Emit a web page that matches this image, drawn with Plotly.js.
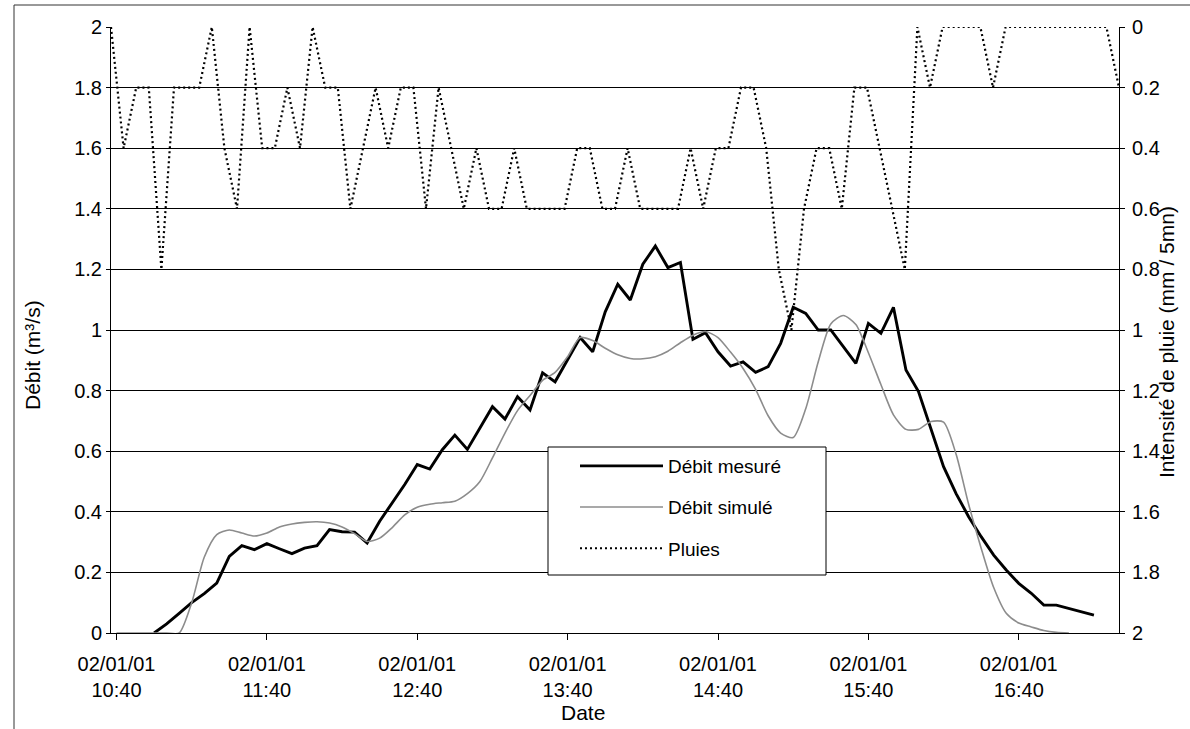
<!DOCTYPE html>
<html>
<head>
<meta charset="utf-8">
<script src="https://cdn.plot.ly/plotly-3.0.1.min.js"></script>
<style>
  html, body { margin: 0; padding: 0; background: #fff; }
  #chart { width: 1190px; height: 729px; }
</style>
</head>
<body>
<div id="chart"></div>
<script>
// Readings on 2 January 2001, one value every 5 minutes
const day = '2001-01-02';
const stepMin = 5;

// Pluies: rain intensity (mm / 5mn), 10:40 -> 17:20
const pluiesStart = '10:40';
const pluies = [
  0, 0.4, 0.2, 0.2, 0.8, 0.2, 0.2, 0.2, 0, 0.4,
  0.6, 0, 0.4, 0.4, 0.2, 0.4, 0, 0.2, 0.2, 0.6,
  0.4, 0.2, 0.4, 0.2, 0.2, 0.6, 0.2, 0.4, 0.6, 0.4,
  0.6, 0.6, 0.4, 0.6, 0.6, 0.6, 0.6, 0.4, 0.4, 0.6,
  0.6, 0.4, 0.6, 0.6, 0.6, 0.6, 0.4, 0.6, 0.4, 0.4,
  0.2, 0.2, 0.4, 0.8, 1.0, 0.6, 0.4, 0.4, 0.6, 0.2,
  0.2, 0.4, 0.6, 0.8, 0, 0.2, 0, 0, 0, 0,
  0.2, 0, 0, 0, 0, 0, 0, 0, 0, 0,
  0.2
];

// Débit mesuré: measured discharge (m3/s), 10:55 -> 17:10
const mesureStart = '10:55';
const debitMesure = [
  0, 0.03, 0.065, 0.10, 0.13, 0.165, 0.253, 0.288, 0.275, 0.295,
  0.278, 0.262, 0.28, 0.288, 0.341, 0.334, 0.333, 0.297, 0.369, 0.43,
  0.49, 0.556, 0.541, 0.605, 0.653, 0.606, 0.677, 0.747, 0.706, 0.78,
  0.736, 0.859, 0.829, 0.90, 0.975, 0.928, 1.06, 1.151, 1.099, 1.217,
  1.277, 1.206, 1.223, 0.969, 0.991, 0.928, 0.881, 0.895, 0.86, 0.879,
  0.956, 1.075, 1.055, 1.0, 1.0, 0.945, 0.89, 1.022, 0.989, 1.075,
  0.868, 0.797, 0.67, 0.549, 0.46, 0.384, 0.318, 0.257, 0.208, 0.164,
  0.131, 0.092, 0.092, 0.081, 0.07, 0.059
];

// Débit simulé: simulated discharge (m3/s), 10:40 -> 17:00
const simuleStart = '10:40';
const debitSimule = [
  0, 0, 0, 0, 0, 0, 0.10, 0.25, 0.325, 0.34,
  0.33, 0.32, 0.33, 0.35, 0.36, 0.365, 0.367, 0.363, 0.35, 0.328,
  0.302, 0.313, 0.348, 0.39, 0.415, 0.425, 0.43, 0.435, 0.46, 0.50,
  0.578, 0.66, 0.734, 0.784, 0.834, 0.86, 0.912, 0.975, 0.965, 0.94,
  0.918, 0.906, 0.905, 0.912, 0.93, 0.958, 0.983, 0.995, 0.975, 0.927,
  0.873, 0.804, 0.717, 0.66, 0.645, 0.74, 0.895, 1.02, 1.048, 1.018,
  0.925, 0.82, 0.72, 0.672, 0.672, 0.698, 0.696, 0.59, 0.425, 0.28,
  0.15, 0.065, 0.033, 0.02, 0.008, 0.002, 0
];

// Build "YYYY-MM-DD HH:MM" stamps from a start time, one per reading
function stamps(start, n) {
  const [h, m] = start.split(':').map(Number);
  const out = [];
  for (let i = 0; i < n; i++) {
    const t = h * 60 + m + i * stepMin;
    const hh = String(Math.floor(t / 60)).padStart(2, '0');
    const mm = String(t % 60).padStart(2, '0');
    out.push(day + ' ' + hh + ':' + mm);
  }
  return out;
}

const FONT = 'Liberation Sans, Arial, sans-serif';
const W = 1190, H = 729;
const M = { l: 111, r: 71, t: 27, b: 96 };
const plotW = W - M.l - M.r, plotH = H - M.t - M.b;
// pixel position -> paper coordinates (for titles and the legend frame)
const px = x => (x - M.l) / plotW;
const py = y => (H - M.b - y) / plotH;

const traces = [
  {
    name: 'Débit mesuré',
    x: stamps(mesureStart, debitMesure.length),
    y: debitMesure,
    type: 'scatter', mode: 'lines',
    line: { color: '#000000', width: 2.9 },
    legendgroup: 'a', xaxis: 'x', yaxis: 'y'
  },
  {
    name: 'Débit simulé',
    x: stamps(simuleStart, debitSimule.length),
    y: debitSimule,
    type: 'scatter', mode: 'lines',
    line: { color: '#8c8c8c', width: 1.6, shape: 'spline', smoothing: 0.7 },
    legendgroup: 'b', xaxis: 'x', yaxis: 'y'
  },
  {
    // rain is laid on its own (hidden) time axis spanning the full plot width
    name: 'Pluies',
    x: stamps(pluiesStart, pluies.length),
    y: pluies,
    type: 'scatter', mode: 'lines',
    line: { color: '#000000', width: 2.2, dash: '2px,3px' },
    legendgroup: 'c', xaxis: 'x2', yaxis: 'y2'
  }
];

const tickFont = { family: FONT, size: 20, color: '#000' };
const titleFont = { family: FONT, size: 21, color: '#000' };

const layout = {
  width: W, height: H,
  margin: M,
  paper_bgcolor: '#ffffff',
  plot_bgcolor: '#ffffff',
  font: { family: FONT, size: 19, color: '#000' },
  showlegend: true,
  legend: {
    x: px(575), y: py(447), xanchor: 'left', yanchor: 'top',
    bgcolor: 'rgba(0,0,0,0)', borderwidth: 0,
    font: { family: FONT, size: 19, color: '#000' },
    traceorder: 'grouped', tracegroupgap: 13.5, itemwidth: 83
  },
  xaxis: {
    type: 'date',
    range: [day + ' 10:37:48', day + ' 17:20'],
    tick0: day + ' 10:40',
    dtick: 3600000,
    tickformat: '%d/%m/%y<br>%H:%M',
    ticks: 'outside', ticklen: 6, tickcolor: '#000', tickwidth: 1,
    ticklabelstandoff: 7,
    showline: true, linecolor: '#000', linewidth: 1,
    showgrid: false, zeroline: false,
    tickfont: tickFont
  },
  xaxis2: {
    type: 'date', overlaying: 'x',
    range: [day + ' 10:40', day + ' 17:20'],
    visible: false
  },
  yaxis: {
    range: [0, 2], dtick: 0.2, tick0: 0,
    ticks: 'outside', ticklen: 4, tickcolor: '#000',
    showline: true, linecolor: '#000', linewidth: 1,
    showgrid: true, gridcolor: '#000', gridwidth: 1,
    zeroline: false,
    tickfont: tickFont
  },
  yaxis2: {
    overlaying: 'y', side: 'right',
    range: [2, 0], dtick: 0.2, tick0: 0,
    ticks: 'outside', ticklen: 5, tickcolor: '#000',
    ticklabelstandoff: 3,
    showline: true, linecolor: '#000', linewidth: 1,
    showgrid: false, zeroline: false,
    tickfont: tickFont
  },
  annotations: [
    { text: 'Date', xref: 'paper', yref: 'paper', x: px(583), y: py(712),
      xanchor: 'center', yanchor: 'middle', showarrow: false, font: titleFont },
    { text: 'Débit (m³/s)', xref: 'paper', yref: 'paper', x: px(32), y: py(355),
      xanchor: 'center', yanchor: 'middle', textangle: -90, showarrow: false, font: titleFont },
    { text: 'Intensité de pluie (mm / 5mn)', xref: 'paper', yref: 'paper', x: px(1166), y: py(342),
      xanchor: 'center', yanchor: 'middle', textangle: -90, showarrow: false, font: titleFont }
  ],
  shapes: [
    // frame of the chart area
    { type: 'line', xref: 'paper', yref: 'paper', x0: px(14), x1: px(1190), y0: py(5), y1: py(5),
      line: { color: '#333', width: 1 } },
    { type: 'line', xref: 'paper', yref: 'paper', x0: px(14), x1: px(14), y0: py(5), y1: py(729),
      line: { color: '#333', width: 1 } },
    // legend box, drawn over the curves
    { type: 'rect', xref: 'paper', yref: 'paper', layer: 'above',
      x0: px(548), x1: px(826), y0: py(575), y1: py(447),
      fillcolor: '#ffffff', line: { color: '#000', width: 1 } }
  ]
};

Plotly.newPlot('chart', traces, layout, { displayModeBar: false, staticPlot: true });
</script>
</body>
</html>
